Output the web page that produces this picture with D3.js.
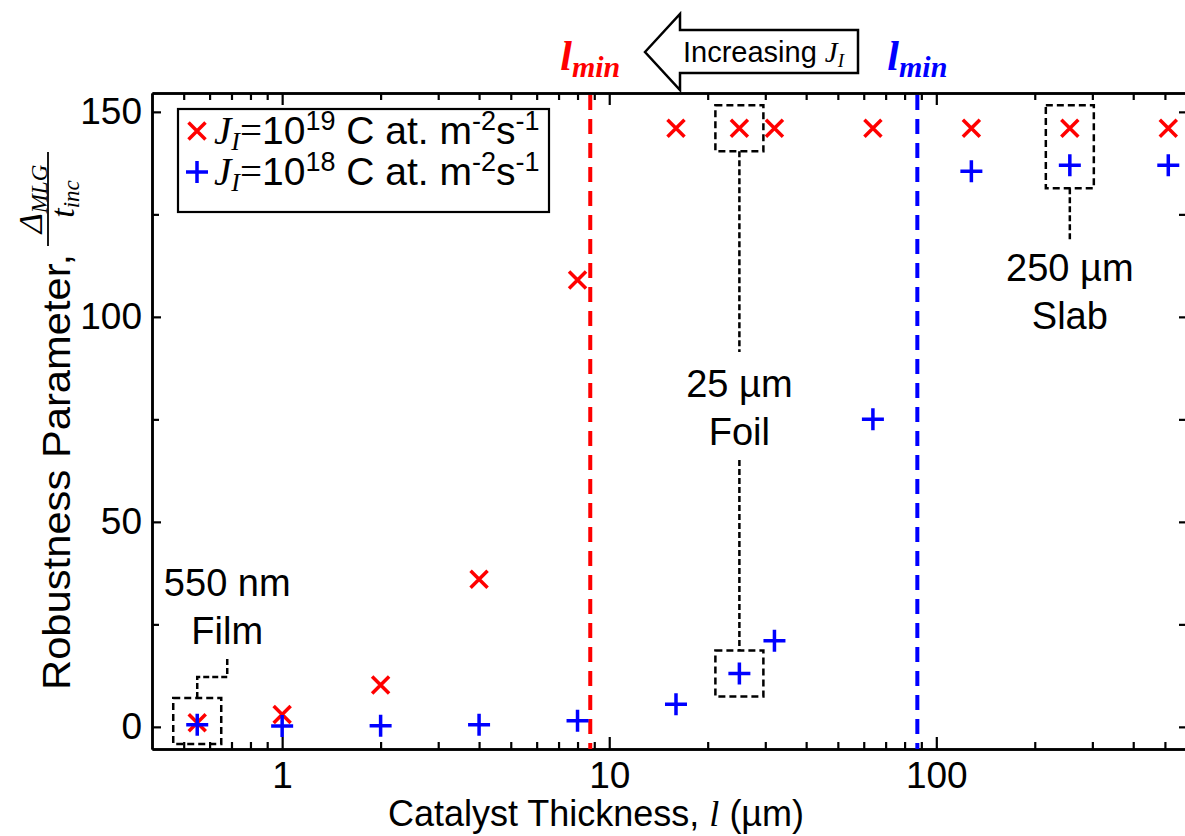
<!DOCTYPE html>
<html>
<head>
<meta charset="utf-8">
<script src="https://cdn.jsdelivr.net/npm/d3@7"></script>
<style>
  body { margin: 0; background: #fff; }
  text { font-family: "Liberation Sans", Arial, sans-serif; fill: #000; }
  .it { font-family: "Liberation Serif", "Times New Roman", serif; font-style: italic; }
  .rm { font-family: "Liberation Serif", "Times New Roman", serif; }
</style>
</head>
<body>
<div id="chart"></div>
<script>
// catalyst thickness (um), same for both series
const thickness = [0.55, 1, 2, 4, 8, 16, 25, 32, 64, 128, 256, 512];
// robustness parameter for J_I = 10^19
const robustHigh = [1, 3, 10.2, 36, 109, 146, 146, 146, 146, 146, 146, 146];
// robustness parameter for J_I = 10^18
const robustLow = [0.5, 0.2, 0.3, 0.5, 1.5, 5.5, 13, 21, 75, 135.5, 137, 137];
// minimum thickness for each flux
const lMin = [8.75, 87.5];
const seriesColors = ["#ff0000", "#0000ff"];
const legendExp = ["19", "18"];
const xTickLabels = [1, 10, 100];
const yTickLabels = [0, 50, 100, 150];
const yMinorTicks = [25, 75, 125];

const width_svg = 1185, height_svg = 836;
const plot = {left: 152, right: 1186, top: 93, bottom: 749};

var svg = d3.select("#chart")
            .append("svg")
            .attr("width", width_svg)
            .attr("height", height_svg);

const x = d3.scaleLog().domain([0.4, 580]).range([plot.left, plot.right]);
const y = d3.scaleLinear().domain([-5.4, 154.6]).range([plot.bottom, plot.top]);

// all 1..9 x 10^n ticks inside the domain
const xMinor = [];
for (let e = -1; e <= 2; e++) {
    for (let m = 1; m <= 9; m++) {
        const v = m * Math.pow(10, e);
        if (v > 0.41 && v < 575 && xTickLabels.indexOf(v) < 0) xMinor.push(v);
    }
}

function styleAxis(g) {
    g.select(".domain").attr("stroke-width", 2.5).attr("stroke", "#000");
    g.selectAll(".tick line").attr("stroke-width", 2.2).attr("stroke", "#000");
    g.selectAll("text").style("font-size", "37px").attr("fill", "#000");
}

// bottom axis
svg.append("g")
    .attr("transform", `translate(0,${plot.bottom})`)
    .call(d3.axisBottom(x).tickValues(xMinor).tickSize(-7).tickSizeOuter(0).tickFormat(""))
    .call(styleAxis);
svg.append("g")
    .attr("transform", `translate(0,${plot.bottom})`)
    .call(d3.axisBottom(x).tickValues(xTickLabels).tickSize(-12).tickSizeOuter(0)
            .tickPadding(13).tickFormat(d3.format("d")))
    .call(styleAxis);

// top axis
svg.append("g")
    .attr("transform", `translate(0,${plot.top})`)
    .call(d3.axisTop(x).tickValues(xMinor).tickSize(-7).tickSizeOuter(0).tickFormat(""))
    .call(styleAxis);
svg.append("g")
    .attr("transform", `translate(0,${plot.top})`)
    .call(d3.axisTop(x).tickValues(xTickLabels).tickSize(-12).tickSizeOuter(0).tickFormat(""))
    .call(styleAxis);

// left axis
svg.append("g")
    .attr("transform", `translate(${plot.left},0)`)
    .call(d3.axisLeft(y).tickValues(yTickLabels).tickSize(-9).tickSizeOuter(0).tickPadding(10))
    .call(styleAxis);
svg.append("g")
    .attr("transform", `translate(${plot.left},0)`)
    .call(d3.axisLeft(y).tickValues(yMinorTicks).tickSize(-7).tickSizeOuter(0).tickFormat(""))
    .call(styleAxis);

// right axis (cut at the image edge)
svg.append("g")
    .attr("transform", `translate(${plot.right},0)`)
    .call(d3.axisRight(y).tickValues(yTickLabels.concat(yMinorTicks)).tickSize(-7).tickSizeOuter(0).tickFormat(""))
    .call(styleAxis);

// l_min dashed lines
svg.append("g")
    .selectAll("line")
    .data(lMin)
    .join("line")
    .attr("x1", d => x(d))
    .attr("x2", d => x(d))
    .attr("y1", plot.top + 2)
    .attr("y2", plot.bottom)
    .attr("stroke", (d, i) => seriesColors[i])
    .attr("stroke-width", 4)
    .attr("stroke-dasharray", "15,9");

// l_min labels above the plot
const lminLab = svg.append("g")
    .selectAll("text")
    .data(lMin)
    .join("text")
    .attr("x", d => x(d))
    .attr("y", 70)
    .attr("text-anchor", "middle")
    .attr("class", "it")
    .style("font-weight", "bold")
    .style("font-size", "42px")
    .style("fill", (d, i) => seriesColors[i]);
lminLab.append("tspan").text("l");
lminLab.append("tspan").attr("dy", 7).style("font-size", "30px").text("min");

// "Increasing J_I" arrow
svg.append("path")
    .attr("d", "M645,52 L680,14 L680,30 L858,30 L858,73 L680,73 L680,90 Z")
    .attr("fill", "#fff")
    .attr("stroke", "#000")
    .attr("stroke-width", 2.5);
const arrowText = svg.append("text")
    .attr("x", 683)
    .attr("y", 62)
    .style("font-size", "29px");
arrowText.append("tspan").text("Increasing ");
arrowText.append("tspan").attr("class", "it").text("J");
arrowText.append("tspan").attr("class", "it").attr("dy", 5).style("font-size", "19px").text("I");

// annotation boxes around highlighted points
const pad = {x: 24, y: 23};
function box(xv, yTop, yBot) {
    svg.append("rect")
        .attr("x", x(xv) - pad.x)
        .attr("y", y(yTop) - pad.y)
        .attr("width", 2 * pad.x)
        .attr("height", y(yBot) - y(yTop) + 2 * pad.y)
        .attr("fill", "none")
        .attr("stroke", "#000")
        .attr("stroke-width", 2.5)
        .attr("stroke-dasharray", "7,4");
}
function dashed(points) {
    svg.append("path")
        .attr("d", d3.line()(points))
        .attr("fill", "none")
        .attr("stroke", "#000")
        .attr("stroke-width", 2.5)
        .attr("stroke-dasharray", "6,3");
}
function label(cx, y1, lines) {
    lines.forEach((t, i) => {
        svg.append("text")
            .attr("x", cx)
            .attr("y", y1 + i * 48)
            .attr("text-anchor", "middle")
            .style("font-size", "38px")
            .text(t);
    });
}

// 550 nm film
box(thickness[0], 1.4, 1.4);
{
    const bx = x(thickness[0]);
    const top = y(1.4) - pad.y;
    dashed([[bx, top], [bx, top - 21], [bx + 30, top - 21], [bx + 30, top - 42]]);
    label(bx + 30, 596, ["550 nm", "Film"]);
}

// 25 um foil
box(thickness[6], robustHigh[6], robustHigh[6]);
box(thickness[6], robustLow[6], robustLow[6]);
{
    const bx = x(thickness[6]);
    dashed([[bx, y(robustHigh[6]) + pad.y], [bx, 352]]);
    dashed([[bx, 460], [bx, y(robustLow[6]) - pad.y]]);
    label(bx, 397, ["25 \u00b5m", "Foil"]);
}

// 250 um slab
box(thickness[10], robustHigh[10], robustLow[10]);
{
    const bx = x(thickness[10]);
    dashed([[bx, y(robustLow[10]) + pad.y], [bx, 240]]);
    label(bx, 281, ["250 \u00b5m", "Slab"]);
}

// markers
function crossPath(s) { return `M${-s},${-s}L${s},${s}M${-s},${s}L${s},${-s}`; }
function plusPath(s) { return `M${-s},0L${s},0M0,${-s}L0,${s}`; }

svg.append("g")
    .selectAll("path")
    .data(thickness.map((t, i) => [t, robustHigh[i]]))
    .join("path")
    .attr("transform", d => `translate(${x(d[0])},${y(d[1])})`)
    .attr("d", crossPath(8.5))
    .attr("stroke", seriesColors[0])
    .attr("stroke-width", 3.5);

svg.append("g")
    .selectAll("path")
    .data(thickness.map((t, i) => [t, robustLow[i]]))
    .join("path")
    .attr("transform", d => `translate(${x(d[0])},${y(d[1])})`)
    .attr("d", plusPath(11))
    .attr("stroke", seriesColors[1])
    .attr("stroke-width", 3.5);

// legend
const legend = svg.append("g");
legend.append("rect")
    .attr("x", 178).attr("y", 109)
    .attr("width", 371).attr("height", 103)
    .attr("fill", "#fff")
    .attr("stroke", "#000")
    .attr("stroke-width", 2.2);
legendExp.forEach((ex, i) => {
    const ly = 131 + i * 41;
    legend.append("path")
        .attr("transform", `translate(197,${ly})`)
        .attr("d", i == 0 ? crossPath(8.5) : plusPath(11))
        .attr("stroke", seriesColors[i])
        .attr("stroke-width", 3.5);
    const t = legend.append("text")
        .attr("x", 214)
        .attr("y", ly + 13)
        .style("font-size", "39px");
    t.append("tspan").attr("class", "it").text("J");
    t.append("tspan").attr("class", "it").attr("dy", 6).style("font-size", "26px").text("I");
    t.append("tspan").attr("class", "rm").attr("dy", -6).text("=");
    t.append("tspan").text("10");
    t.append("tspan").attr("dy", -14).style("font-size", "27px").text(ex);
    t.append("tspan").attr("dy", 14).text(" C at. m");
    t.append("tspan").attr("dy", -14).style("font-size", "27px").text("-2");
    t.append("tspan").attr("dy", 14).text("s");
    t.append("tspan").attr("dy", -14).style("font-size", "27px").text("-1");
});

// axis titles
const xt = svg.append("text")
    .attr("x", 596)
    .attr("y", 826)
    .attr("text-anchor", "middle")
    .style("font-size", "36px");
xt.append("tspan").text("Catalyst Thickness, ");
xt.append("tspan").attr("class", "it").text("l");
xt.append("tspan").text(" (\u00b5m)");

svg.append("text")
    .attr("transform", "translate(70,690) rotate(-90)")
    .style("font-size", "39px")
    .attr("textLength", 436)
    .attr("lengthAdjust", "spacingAndGlyphs")
    .text("Robustness Parameter,");

// fraction Delta_MLG / t_inc
const frac = svg.append("g").attr("transform", "translate(48,246) rotate(-90)");
frac.append("line")
    .attr("x1", 0).attr("x2", 94)
    .attr("stroke", "#000").attr("stroke-width", 1.8);
const num = frac.append("text")
    .attr("x", 47)
    .attr("y", -6)
    .attr("text-anchor", "middle")
    .attr("class", "it")
    .style("font-size", "34px");
num.append("tspan").text("\u0394");
num.append("tspan").attr("dy", 5).style("font-size", "23px").text("MLG");
const den = frac.append("text")
    .attr("x", 47)
    .attr("y", 26)
    .attr("text-anchor", "middle")
    .attr("class", "it")
    .style("font-size", "34px");
den.append("tspan").text("t");
den.append("tspan").attr("dy", 5).style("font-size", "23px").text("inc");
</script>
</body>
</html>
